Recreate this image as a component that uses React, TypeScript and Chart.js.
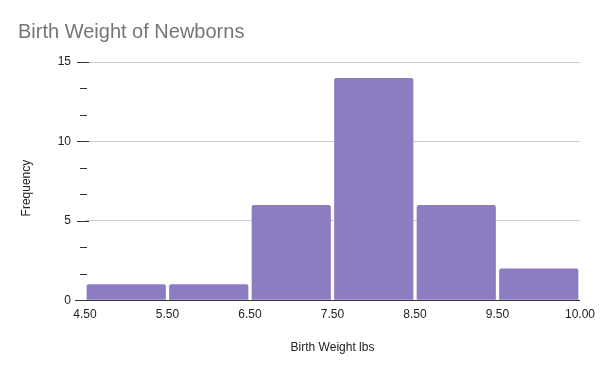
import React, { useEffect, useRef } from "react";
import { Chart, registerables } from "chart.js";

Chart.register(...registerables);

const binLabels = ["4.50-5.50", "5.50-6.50", "6.50-7.50", "7.50-8.50", "8.50-9.50", "9.50-10.00"];
const frequencies = [1, 1, 6, 14, 6, 2];
const edgeLabels = ["4.50", "5.50", "6.50", "7.50", "8.50", "9.50", "10.00"];
const yMajorTicks = [0, 5, 10, 15];
const yTitle = "Frequency";

const FONT = "'Liberation Sans', Arial, sans-serif";

const tickMarksPlugin = {
  id: "tickMarks",
  afterDraw(chart: any) {
    const { ctx, chartArea } = chart;
    const y = chart.scales.y;
    ctx.save();
    ctx.strokeStyle = "#333333";
    ctx.lineWidth = 1;
    for (let i = 0; i <= 9; i++) {
      const v = (i * 5) / 3;
      const py = Math.round(y.getPixelForValue(v)) + 0.5;
      const major = i % 3 === 0;
      ctx.beginPath();
      if (major) {
        ctx.moveTo(chartArea.left - 8, py);
        ctx.lineTo(chartArea.left + 4, py);
      } else {
        ctx.moveTo(chartArea.left - 5, py);
        ctx.lineTo(chartArea.left + 2, py);
      }
      ctx.stroke();
    }
    const by = Math.round(y.getPixelForValue(0)) + 0.5;
    ctx.beginPath();
    ctx.moveTo(chartArea.left - 10, by);
    ctx.lineTo(chartArea.right, by);
    ctx.stroke();
    ctx.fillStyle = "#222222";
    ctx.font = "12px " + FONT;
    ctx.textAlign = "center";
    ctx.textBaseline = "middle";
    ctx.translate(27, (chartArea.top + chartArea.bottom) / 2 + 7);
    ctx.rotate(-Math.PI / 2);
    ctx.fillText(yTitle, 0, 0);
    ctx.restore();
  },
};

export default function App() {
  const ref = useRef<HTMLCanvasElement>(null);
  useEffect(() => {
    if (!ref.current) return;
    const chart = new Chart(ref.current, {
      type: "bar",
      data: {
        labels: binLabels,
        datasets: [
          {
            data: frequencies,
            backgroundColor: "#8e7cc3",
            borderRadius: 2,
            borderSkipped: "bottom",
            categoryPercentage: 1,
            barPercentage: 0.96,
          },
        ],
      },
      options: {
        animation: false,
        responsive: false,
        maintainAspectRatio: false,
        layout: { padding: { left: 18, right: 20, top: 0, bottom: 0 } },
        plugins: {
          legend: { display: false },
          tooltip: { enabled: false },
          title: {
            display: true,
            text: "Birth Weight of Newborns",
            align: "start",
            color: "#757575",
            font: { family: FONT, size: 20, weight: "normal" },
            padding: { top: 20, bottom: 18 },
          },
        },
        scales: {
          x: {
            display: false,
            type: "category",
            offset: true,
            grid: { display: false },
          },
          x2: {
            type: "linear",
            position: "bottom",
            min: 0,
            max: 6,
            offset: false,
            afterFit: (s: any) => {
              s.paddingLeft = 0;
              s.paddingRight = 0;
            },
            grid: { display: false, drawTicks: false, offset: false },
            border: { display: false },
            ticks: {
              stepSize: 1,
              autoSkip: false,
              maxRotation: 0,
              padding: 7,
              color: "#222222",
              font: { family: FONT, size: 12 },
              callback: (v: any) => edgeLabels[v as number] ?? "",
            },
            title: {
              display: true,
              text: "Birth Weight lbs",
              color: "#222222",
              font: { family: FONT, size: 12 },
              padding: { top: 12, bottom: 16 },
            },
          },
          y: {
            min: 0,
            max: 15,
            afterFit: (s: any) => {
              s.width = 67;
            },
            afterBuildTicks: (s: any) => {
              s.ticks = yMajorTicks.map((v) => ({ value: v }));
            },
            grid: { color: "#cccccc", drawTicks: false },
            border: { display: false },
            ticks: {
              padding: 14,
              color: "#222222",
              font: { family: FONT, size: 12 },
            },
            title: { display: false },
          },
        },
      },
      plugins: [tickMarksPlugin],
    } as any);
    return () => chart.destroy();
  }, []);
  return (
    <div style={{ position: "fixed", left: 0, top: 0, width: 600, height: 371, background: "#fff" }}>
      <canvas ref={ref} width={600} height={371} style={{ width: 600, height: 371 }} />
    </div>
  );
}
